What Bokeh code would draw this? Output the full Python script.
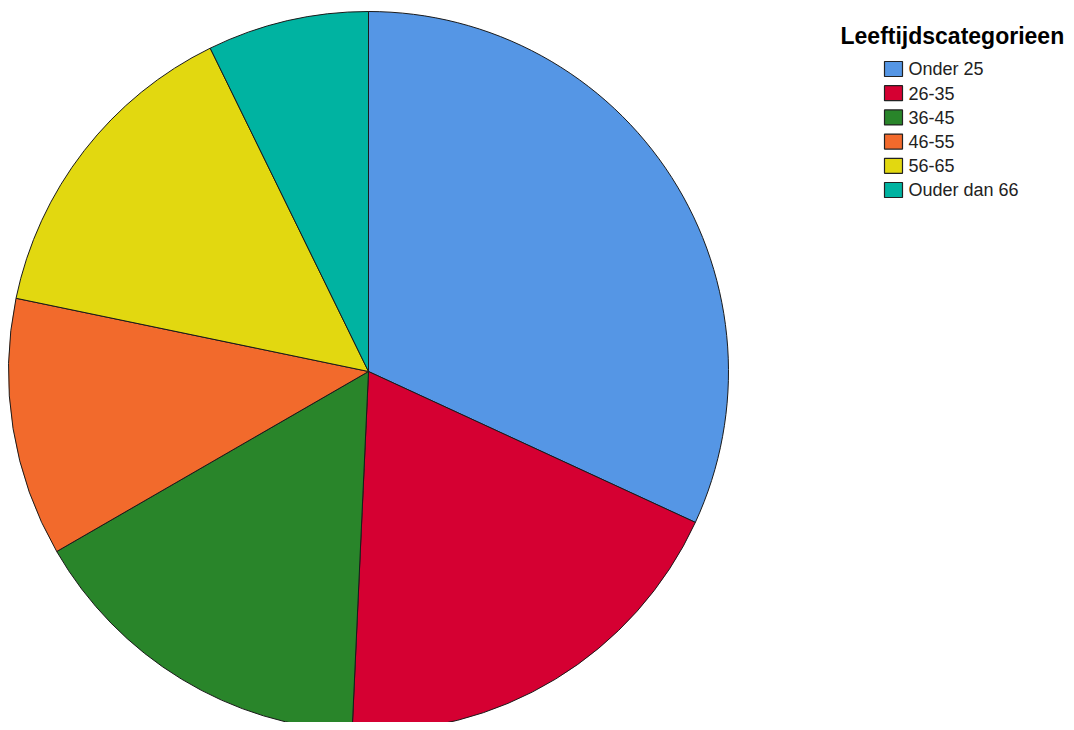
import math
from bokeh.plotting import figure
from bokeh.models import ColumnDataSource, Range1d
from bokeh.core.properties import value
from bokeh.embed import file_html
from bokeh.resources import INLINE

categories = ["Onder 25", "26-35", "36-45", "46-55", "56-65", "Ouder dan 66"]
counts = [22, 13, 11, 8, 10, 5]
colors = ["#5596E5", "#D50032", "#29852A", "#F26A2C", "#E2D810", "#00B3A1"]
legend_title = "Leeftijdscategorieen"

W, H = 1066, 722
total = sum(counts)
starts, ends = [], []
acc = 0.0
for c in counts:
    a0 = math.pi / 2 - 2 * math.pi * acc / total
    acc += c
    a1 = math.pi / 2 - 2 * math.pi * acc / total
    starts.append(a0)
    ends.append(a1)

cx, cy, r = 368, H - 371, 360

src = ColumnDataSource(dict(cat=categories, val=counts, color=colors,
                            start=starts, end=ends,
                            x=[cx] * len(counts), y=[cy] * len(counts)))

p = figure(width=W, height=H, output_backend="svg", toolbar_location=None,
           x_range=Range1d(0, W), y_range=Range1d(0, H), min_border=0,
           outline_line_color=None)
p.axis.visible = False
p.grid.visible = False
p.background_fill_color = "white"

p.wedge(x="x", y="y", radius=r, start_angle="start", end_angle="end",
        direction="clock", fill_color="color", line_color="#1a1a1a",
        line_width=1, source=src)

# legend
lx, ly0, step = 893, H - 68.5, 24.2
leg = ColumnDataSource(dict(
    x=[lx] * len(categories),
    y=[ly0 - i * step for i in range(len(categories))],
    tx=[lx + 15] * len(categories),
    cat=categories, color=colors))
p.rect(x="x", y="y", width=18, height=15, fill_color="color",
       line_color="#222222", line_width=1.2, source=leg)
p.text(x="tx", y="y", text="cat", text_font=value("Liberation Sans"),
       text_font_size="18px", text_baseline="middle", text_color="#222222",
       source=leg)
p.text(x=[840], y=[H - 35.7], text=[legend_title], text_font=value("Liberation Sans"),
       text_font_size="23px", text_font_style="bold", text_baseline="middle",
       text_color="black")

open("out.html", "w").write(file_html(p, INLINE))
